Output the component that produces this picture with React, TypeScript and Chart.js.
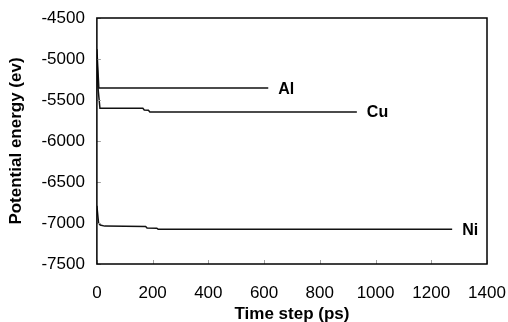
import React, { useEffect, useRef } from "react";
import { Chart, registerables } from "chart.js";

Chart.register(...registerables);

const seriesNames = ["Al", "Cu", "Ni"];

const alTime = [0, 7, 615];
const alEnergy = [-4880, -5355, -5355];

const cuTime = [0, 4, 11, 165, 170, 185, 190, 933];
const cuEnergy = [-4950, -5350, -5600, -5602, -5622, -5625, -5645, -5645];

const niTime = [0, 6, 12, 28, 175, 180, 215, 220, 1275];
const niEnergy = [-6790, -7000, -7025, -7038, -7042, -7060, -7063, -7077, -7077];

const xTicks = [0, 200, 400, 600, 800, 1000, 1200, 1400];
const yTicks = [-7500, -7000, -6500, -6000, -5500, -5000, -4500];

const FONT = "'Liberation Sans', Arial, sans-serif";

const framePlugin = {
  id: "framePlugin",
  afterDraw(chart: any) {
    const { ctx, chartArea, scales } = chart;
    const { left, right, top, bottom } = chartArea;
    const x = scales.x;
    const y = scales.y;
    ctx.save();
    // inward ticks
    ctx.strokeStyle = "#a0a0a0";
    ctx.lineWidth = 1;
    xTicks.forEach((v) => {
      const px = Math.round(x.getPixelForValue(v)) + 0.5;
      ctx.beginPath();
      ctx.moveTo(px, bottom);
      ctx.lineTo(px, bottom - 4);
      ctx.stroke();
    });
    yTicks.forEach((v) => {
      const py = Math.round(y.getPixelForValue(v)) + 0.5;
      ctx.beginPath();
      ctx.moveTo(left, py);
      ctx.lineTo(left + 4, py);
      ctx.stroke();
    });
    // frame
    ctx.strokeStyle = "#000";
    ctx.lineWidth = 1.5;
    ctx.strokeRect(left, top, right - left, bottom - top);
    // series labels
    ctx.fillStyle = "#000";
    ctx.font = `bold 16px ${FONT}`;
    ctx.textBaseline = "middle";
    ctx.textAlign = "left";
    chart.data.datasets.forEach((ds: any, i: number) => {
      const last = ds.data[ds.data.length - 1];
      const px = x.getPixelForValue(last.x);
      const py = y.getPixelForValue(last.y);
      ctx.fillText(seriesNames[i], px + 10, py + 1);
    });
    ctx.restore();
  },
};

function toPoints(xs: number[], ys: number[]) {
  return xs.map((v, i) => ({ x: v, y: ys[i] }));
}

export default function App() {
  const ref = useRef<HTMLCanvasElement | null>(null);

  useEffect(() => {
    document.body.style.margin = "0";
    if (!ref.current) return;
    const series = [
      toPoints(alTime, alEnergy),
      toPoints(cuTime, cuEnergy),
      toPoints(niTime, niEnergy),
    ];
    const chart = new Chart(ref.current, {
      type: "scatter",
      data: {
        datasets: series.map((d, i) => ({
          label: seriesNames[i],
          data: d,
          showLine: true,
          borderColor: "#111",
          borderWidth: 1.5,
          pointRadius: 0,
          tension: 0,
        })),
      },
      options: {
        animation: false,
        responsive: false,
        layout: { padding: { top: 0, right: 21, left: 5, bottom: 0 } },
        plugins: {
          legend: { display: false },
          tooltip: { enabled: false },
        },
        scales: {
          x: {
            type: "linear",
            min: 0,
            max: 1400,
            afterBuildTicks: (s: any) => {
              s.ticks = xTicks.map((v) => ({ value: v }));
            },
            grid: { display: false, drawTicks: false },
            border: { display: false },
            ticks: {
              color: "#000",
              padding: 2,
              font: { family: FONT, size: 17, lineHeight: 54 / 17 },
              maxRotation: 0,
              callback: (v: any) => String(v),
            },
            title: {
              display: true,
              text: "Time step (ps)",
              color: "#000",
              font: { family: FONT, size: 17, weight: "bold", lineHeight: 0.9 },
              padding: { top: -15.3, bottom: 0 },
            },
          },
          y: {
            type: "linear",
            min: -7500,
            max: -4500,
            afterBuildTicks: (s: any) => {
              s.ticks = yTicks.map((v) => ({ value: v }));
            },
            grid: { display: false, drawTicks: false },
            border: { display: false },
            ticks: {
              color: "#000",
              padding: 12,
              font: { family: FONT, size: 17, lineHeight: 12 / 17 },
              callback: (v: any) => String(v),
            },
            title: {
              display: true,
              text: "Potential energy (ev)",
              color: "#000",
              font: { family: FONT, size: 17, weight: "bold", lineHeight: 1.2 },
              padding: { top: 1, bottom: 3 },
            },
          },
        },
      },
      plugins: [framePlugin],
    });
    return () => chart.destroy();
  }, []);

  return (
    <div style={{ width: 508, height: 322, background: "#fff" }}>
      <canvas ref={ref} width={508} height={322} style={{ display: "block" }} />
    </div>
  );
}
